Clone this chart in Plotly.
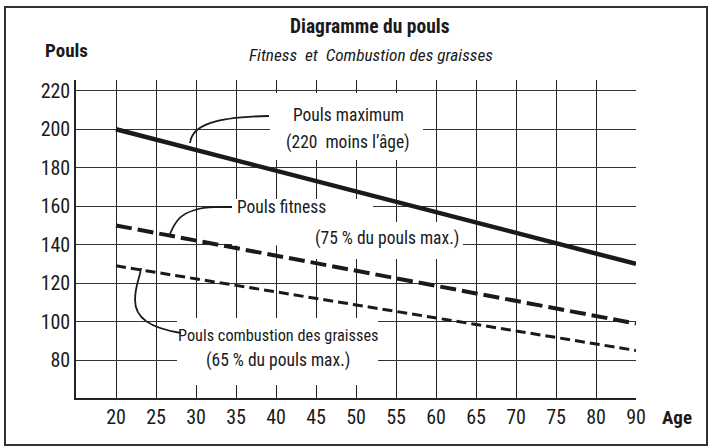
import plotly.graph_objects as go

# ---------------- data ----------------
age_labels = ["20", "25", "30", "35", "40", "45", "50", "55", "60", "65", "70", "75", "80", "90"]
line_ages = ["20", "90"]
pouls_max = [200, 130]
pouls_fitness = [150, 99]
pouls_combustion = [129, 85]
y_ticks = [80, 100, 120, 140, 160, 180, 200, 220]

FONT = "'Roboto Condensed', 'DejaVu Sans Condensed', sans-serif"
INK = "#1a1a1a"

W, H = 712, 448
L, T = 76, 80
PW, PH = 560, 318
R, B = W - L - PW, H - T - PH


def px(x, y):
    """window pixel position -> paper coordinates"""
    return (x - L) / PW, (H - B - y) / PH


def path(points):
    out = []
    for cmd, pts in points:
        coords = " ".join(f"{px(x, y)[0]:.4f},{px(x, y)[1]:.4f}" for x, y in pts)
        out.append(f"{cmd} {coords}")
    return " ".join(out)


fig = go.Figure()

fig.add_trace(go.Scatter(x=line_ages, y=pouls_max, mode="lines",
                         line=dict(color=INK, width=4.5), showlegend=False, hoverinfo="skip"))
fig.add_trace(go.Scatter(x=line_ages, y=pouls_fitness, mode="lines",
                         line=dict(color=INK, width=4, dash="16px,6px"), showlegend=False, hoverinfo="skip"))
fig.add_trace(go.Scatter(x=line_ages, y=pouls_combustion, mode="lines",
                         line=dict(color=INK, width=3, dash="10px,5px"), showlegend=False, hoverinfo="skip"))

shapes = []
# white masks that interrupt the grid behind the labels
for (x0, y0, x1, y1) in [(270, 93, 423, 160), (232, 199, 373, 245.6), (315, 222, 463, 259), (177, 318, 378, 385)]:
    a0, b1 = px(x0, y0)
    a1, b0 = px(x1, y1)
    shapes.append(dict(type="rect", xref="paper", yref="paper", x0=a0, x1=a1, y0=b0, y1=b1,
                       fillcolor="white", line=dict(width=0), layer="above"))

# leader lines
leaders = [
    [("M", [(269, 116)]), ("C", [(215, 117), (192, 125), (190, 143)])],
    [("M", [(232, 207)]), ("C", [(215, 208), (208, 205), (195, 210)]), ("C", [(180, 214), (175, 222), (170, 234)])],
    [("M", [(181, 333)]), ("C", [(150, 328), (135, 318), (135, 300)]), ("C", [(135, 285), (140, 278), (141, 268)])],
]
for p in leaders:
    shapes.append(dict(type="path", xref="paper", yref="paper", path=path(p),
                       line=dict(color=INK, width=1.8), layer="above"))

# outer frame
fx0, fy1 = px(5, 7)
fx1, fy0 = px(707, 445)
shapes.append(dict(type="rect", xref="paper", yref="paper", x0=fx0, x1=fx1, y0=fy0, y1=fy1,
                   line=dict(color="#333", width=2), fillcolor="rgba(0,0,0,0)", layer="above"))


def ann(text, x, y, size=17.5, xanchor="center", bold=False, italic=False):
    if bold:
        text = f"<b>{text}</b>"
    if italic:
        text = f"<i>{text}</i>"
    ax, ay = px(x, y)
    return dict(text=text, x=ax, y=ay, xref="paper", yref="paper", xanchor=xanchor, yanchor="middle",
                showarrow=False, font=dict(family=FONT, size=size, color=INK))


annotations = [
    ann("Diagramme du pouls", 370, 27, size=19.5, bold=True),
    ann("Fitness&nbsp;&nbsp;et&nbsp;&nbsp;Combustion des graisses", 371, 55, size=17.3, italic=True),
    ann("Pouls", 66, 50, size=19, bold=True),
    ann("Age", 677, 417, size=19, bold=True),
    ann("Pouls maximum", 348, 115),
    ann("(220&nbsp;&nbsp;moins l’âge)", 348, 142),
    ann("Pouls fitness", 235, 207, xanchor="left"),
    ann("(75 % du pouls max.)", 387, 238),
    ann("Pouls combustion des graisses", 278, 335, size=16.3),
    ann("(65 % du pouls max.)", 278, 360),
]

fig.update_layout(
    width=W, height=H,
    margin=dict(l=L, r=R, t=T, b=B, pad=0),
    paper_bgcolor="white", plot_bgcolor="white",
    shapes=shapes, annotations=annotations,
    showlegend=False,
    font=dict(family=FONT, size=20, color=INK),
)
fig.update_xaxes(type="category", categoryorder="array", categoryarray=age_labels,
                 range=[-1, 13], showgrid=True, gridcolor="#222", gridwidth=1,
                 showline=True, linecolor="#222", linewidth=1.5, ticks="", zeroline=False,
                 tickfont=dict(family=FONT, size=20, color=INK), fixedrange=True)
fig.update_yaxes(range=[60.3, 225.6], tickvals=y_ticks, showgrid=True, gridcolor="#333", gridwidth=1,
                 showline=True, linecolor="#222", linewidth=1.5, ticks="", zeroline=False,
                 tickfont=dict(family=FONT, size=20, color=INK), fixedrange=True)

fig.write_html("out.html", config={"displayModeBar": False},
               post_script="document.body.style.margin='0px'; document.body.style.overflow='hidden';")
